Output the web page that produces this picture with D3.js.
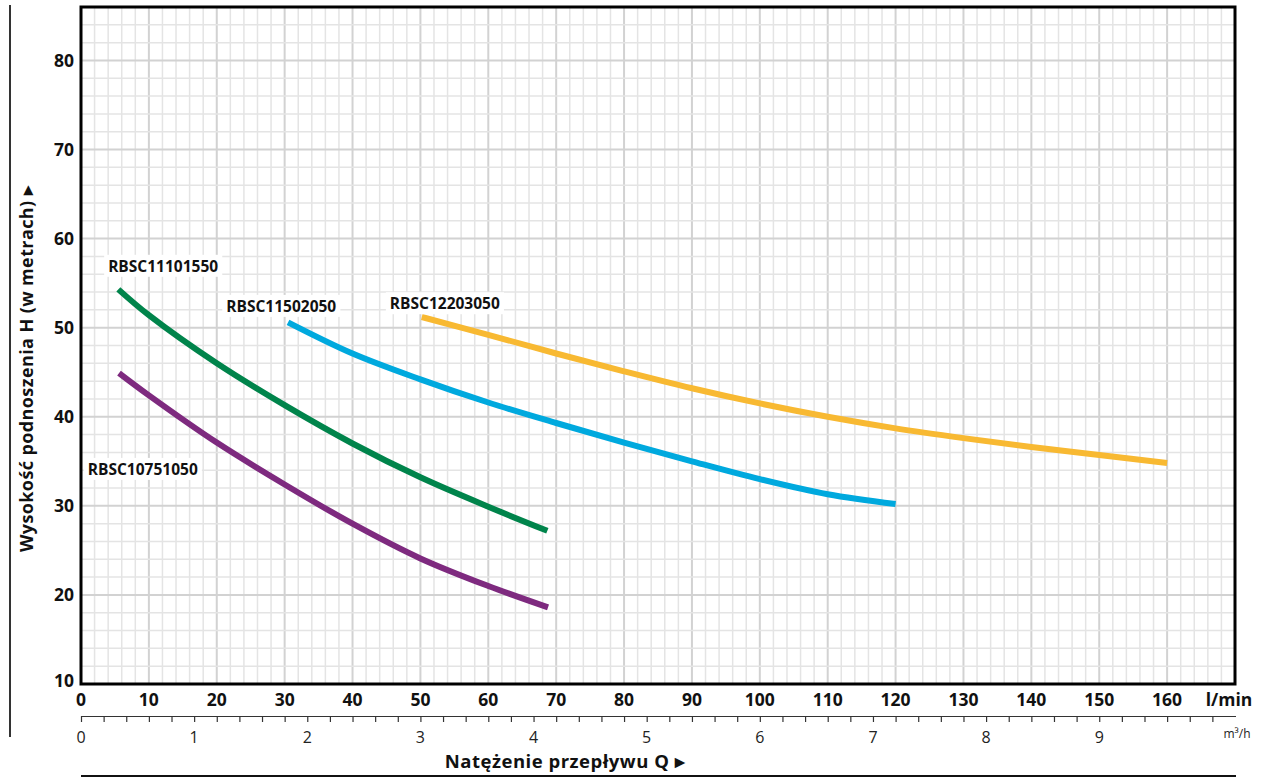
<!DOCTYPE html>
<html><head><meta charset="utf-8">
<script src="https://cdn.jsdelivr.net/npm/d3@7"></script>
<style>
html,body{margin:0;padding:0;background:#fff;}
svg{display:block;font-family:"Open Sans","Noto Sans",sans-serif;}
</style></head>
<body>
<svg id="chart" width="1264" height="778"></svg>
<script>
// ---- data ----
const flowTicks = [0,10,20,30,40,50,60,70,80,90,100,110,120,130,140,150,160];
const headTicks = [10,20,30,40,50,60,70,80];
const m3hTickLabels = [0,1,2,3,4,5,6,7,8,9];

const seriesNames = ["RBSC10751050","RBSC11101550","RBSC11502050","RBSC12203050"];
const seriesColors = ["#7e2a7f","#00844b","#00a9de","#f8b932"];

const q10751050 = [5.6,10,20,30,40,50,60,68.8];
const h10751050 = [44.9,42.4,37.1,32.4,28.0,24.1,21.0,18.6];

const q11101550 = [5.5,10,20,30,40,50,60,68.7];
const h11101550 = [54.3,51.4,46.0,41.3,37.0,33.2,29.9,27.2];

const q11502050 = [30.5,40,50,60,70,80,90,100,110,120];
const h11502050 = [50.6,47.1,44.2,41.6,39.3,37.1,35.0,33.0,31.3,30.2];

const q12203050 = [50.2,60,70,80,90,100,110,120,130,140,150,160];
const h12203050 = [51.2,49.2,47.1,45.1,43.2,41.5,40.0,38.7,37.6,36.6,35.7,34.8];

const labelPos = [ // [q, h] : left edge / vertical centre of each label
  [1.0, 34.1],[4.0, 56.9],[21.4, 52.4],[45.5, 52.7]
];

// ---- layout ----
const svg = d3.select("#chart");
const L = 81, R = 1235, T = 7, B = 684;
const x = d3.scaleLinear().domain([0,170]).range([L,R]);
const y = d3.scaleLinear().domain([10,86]).range([B,T]);

// grid
const g = svg.append("g");
const minorX = d3.range(0,171,2);
const minorY = d3.range(10,86.1,2);
g.selectAll(".vx").data(minorX).enter().append("line")
  .attr("x1",d=>x(d)).attr("x2",d=>x(d)).attr("y1",T).attr("y2",B)
  .attr("stroke",d=>d%10===0?"#d2d2d2":"#e4e4e4").attr("stroke-width",d=>d%10===0?2:1.5);
g.selectAll(".hy").data(minorY).enter().append("line")
  .attr("x1",L).attr("x2",R).attr("y1",d=>y(d)).attr("y2",d=>y(d))
  .attr("stroke",d=>d%10===0?"#d2d2d2":"#e4e4e4").attr("stroke-width",d=>d%10===0?2:1.5);

// frame
svg.append("rect").attr("x",L).attr("y",T).attr("width",R-L).attr("height",B-T)
  .attr("fill","none").attr("stroke","#000").attr("stroke-width",3);

// curves
const allQ = [q10751050,q11101550,q11502050,q12203050];
const allH = [h10751050,h11101550,h11502050,h12203050];
const line = d3.line().x(d=>x(d[0])).y(d=>y(d[1])).curve(d3.curveCatmullRom.alpha(0.5));
seriesNames.forEach((n,i)=>{
  const pts = allQ[i].map((q,j)=>[q,allH[i][j]]);
  svg.append("path").attr("d",line(pts)).attr("fill","none")
    .attr("stroke",seriesColors[i]).attr("stroke-width",6).attr("stroke-linecap","butt");
});

// labels with white background
seriesNames.forEach((n,i)=>{
  const t = svg.append("text").attr("x",x(labelPos[i][0])).attr("y",y(labelPos[i][1]))
    .attr("dy","0.36em").attr("font-size",15.5).attr("font-weight",700).attr("fill","#111").text(n);
  const bb = t.node().getBBox();
  svg.insert("rect", function(){return t.node();})
    .attr("x",bb.x-4).attr("y",bb.y).attr("width",bb.width+8).attr("height",bb.height).attr("fill","#fff");
});

// y axis labels
svg.selectAll(".yl").data(headTicks).enter().append("text")
  .attr("x",74).attr("y",d=>d===10?y(d)-3:y(d)).attr("dy","0.36em").attr("text-anchor","end")
  .attr("font-size",17.5).attr("font-weight",700).attr("fill","#111").text(d=>d);
// x axis labels (l/min)
svg.selectAll(".xl").data(flowTicks).enter().append("text")
  .attr("x",d=>x(d)).attr("y",700).attr("dy","0.36em").attr("text-anchor","middle")
  .attr("font-size",17.5).attr("font-weight",700).attr("fill","#111").text(d=>d);
svg.append("text").attr("x",1229).attr("y",700).attr("dy","0.36em").attr("text-anchor","middle")
  .attr("font-size",17.5).attr("font-weight",700).attr("fill","#111").text("l/min");

// m3/h axis
const xm = d3.scaleLinear().domain([0,170/16.6667]).range([L,R]);
const axM = d3.axisBottom(xm).tickValues(d3.range(0,10.01,0.2)).tickSize(6).tickFormat("");
const gm = svg.append("g").attr("transform","translate(0,716)").call(axM);
gm.select(".domain").attr("d",`M${L},0.5H1236`).attr("stroke","#333").attr("stroke-width",1.2);
gm.selectAll(".tick line").attr("stroke","#333").attr("stroke-width",1.2);
svg.selectAll(".ml").data(m3hTickLabels).enter().append("text")
  .attr("x",d=>xm(d)).attr("y",737).attr("dy","0.36em").attr("text-anchor","middle")
  .attr("font-size",16).attr("fill","#222").text(d=>d);
svg.append("text").attr("x",1237).attr("y",734).attr("dy","0.36em").attr("text-anchor","middle")
  .attr("font-size",12).attr("fill","#222").text("m³/h");

// titles
svg.append("text").attr("x",565).attr("y",761).attr("dy","0.36em").attr("text-anchor","middle")
  .attr("font-size",18.5).attr("letter-spacing",0.5).attr("font-weight",700).attr("fill","#111").text("Natężenie przepływu Q ▸");
svg.append("text").attr("transform","translate(27,369) rotate(-90)").attr("dy","0.36em")
  .attr("text-anchor","middle").attr("font-size",18).attr("letter-spacing",0.4).attr("font-weight",700).attr("fill","#111")
  .text("Wysokość podnoszenia H (w metrach) ▸");

// decorative rules
svg.append("line").attr("x1",10).attr("x2",10).attr("y1",5).attr("y2",737).attr("stroke","#333").attr("stroke-width",2);
svg.append("line").attr("x1",81).attr("x2",1236).attr("y1",776).attr("y2",776).attr("stroke","#111").attr("stroke-width",2);
</script>
</body></html>
